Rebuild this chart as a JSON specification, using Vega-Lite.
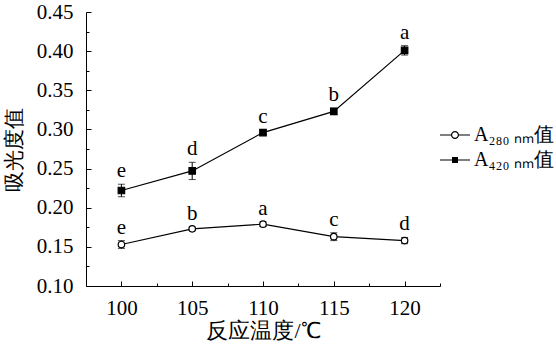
{
  "$schema": "https://vega.github.io/schema/vega-lite/v6.json",
  "autosize": {"type": "none"},
  "width": 354,
  "height": 274,
  "padding": {"left": 86, "top": 12, "right": 116, "bottom": 76},
  "background": "white",
  "data": {
    "values": [
      {"t": 100, "s": "A280", "v": 0.153, "e": 0.005, "l": "e"},
      {"t": 105, "s": "A280", "v": 0.173, "e": 0.002, "l": "b"},
      {"t": 110, "s": "A280", "v": 0.179, "e": 0.003, "l": "a"},
      {"t": 115, "s": "A280", "v": 0.163, "e": 0.005, "l": "c"},
      {"t": 120, "s": "A280", "v": 0.158, "e": 0.004, "l": "d"},
      {"t": 100, "s": "A420", "v": 0.222, "e": 0.008, "l": "e"},
      {"t": 105, "s": "A420", "v": 0.247, "e": 0.011, "l": "d"},
      {"t": 110, "s": "A420", "v": 0.296, "e": 0.003, "l": "c"},
      {"t": 115, "s": "A420", "v": 0.323, "e": 0.004, "l": "b"},
      {"t": 120, "s": "A420", "v": 0.401, "e": 0.006, "l": "a"}
    ]
  },
  "layer": [
    {
      "mark": {"type": "line", "color": "black", "strokeWidth": 1.2},
      "encoding": {
        "x": {"field": "t", "type": "quantitative", "scale": {"domain": [97.5, 122.5], "nice": false, "zero": false},
          "axis": {"values": [100, 105, 110, 115, 120], "tickSize": -5, "labelPadding": 16, "labelFont": "Liberation Serif", "labelFontSize": 21, "titleFont": "Liberation Serif", "title": "反应温度/℃", "titlePadding": 2}},
        "y": {"field": "v", "type": "quantitative", "scale": {"domain": [0.1, 0.45], "nice": false, "zero": false},
          "axis": {"values": [0.1, 0.15, 0.2, 0.25, 0.3, 0.35, 0.4, 0.45], "format": ".2f", "tickSize": -5, "labelPadding": 18, "labelFont": "Liberation Serif", "labelFontSize": 21, "titleFont": "Liberation Serif", "titleFontSize": 21, "title": "吸光度值", "titlePadding": 12}},
        "detail": {"field": "s"}
      }
    },
    {
      "mark": {"type": "errorbar", "color": "black", "thickness": 1, "ticks": {"size": 7, "thickness": 1, "color": "black"}},
      "encoding": {
        "x": {"field": "t", "type": "quantitative", "axis": null},
        "y": {"field": "v", "type": "quantitative", "axis": null},
        "yError": {"field": "e"}
      }
    },
    {
      "mark": {"type": "point", "stroke": "black", "strokeWidth": 1.2, "opacity": 1, "size": 42},
      "encoding": {
        "x": {"field": "t", "type": "quantitative", "axis": null},
        "y": {"field": "v", "type": "quantitative", "axis": null},
        "shape": {"field": "s", "type": "nominal", "scale": {"domain": ["A280", "A420"], "range": ["circle", "square"]}, "legend": null},
        "fill": {"field": "s", "type": "nominal", "scale": {"domain": ["A280", "A420"], "range": ["white", "black"]}, "legend": null}
      }
    },
    {
      "transform": [{"calculate": "datum.v + datum.e", "as": "hi"}],
      "mark": {"type": "text", "baseline": "alphabetic", "dy": -7, "fontSize": 21, "font": "Liberation Serif", "color": "black"},
      "encoding": {
        "x": {"field": "t", "type": "quantitative", "axis": null},
        "y": {"field": "hi", "type": "quantitative", "axis": null},
        "text": {"field": "l"}
      }
    },
    {
      "transform": [{"filter": "false"}],
      "mark": {"type": "point", "filled": true, "fill": "black", "strokeWidth": 0, "opacity": 1},
      "encoding": {
        "x": {"field": "t", "type": "quantitative",
          "axis": {"values": [97.5, 102.5, 107.5, 112.5, 117.5, 122.5], "tickSize": -3, "labels": false, "domain": false, "title": null, "orient": "bottom"}},
        "y": {"field": "v", "type": "quantitative",
          "axis": {"values": [0.125, 0.175, 0.225, 0.275, 0.325, 0.375, 0.425], "tickSize": -3, "labels": false, "domain": false, "title": null, "orient": "left"}},
        "shape": {"field": "s", "type": "nominal", "scale": {"domain": ["A280", "A420"],
          "range": [
            "M-1,-0.04H-0.24V0.04H-1Z M0.24,-0.04H1V0.04H0.24Z M0.27,0A0.27,0.27,0,1,1,-0.27,0A0.27,0.27,0,1,1,0.27,0Z M0.19,0A0.19,0.19,0,1,0,-0.19,0A0.19,0.19,0,1,0,0.19,0Z",
            "M-1,-0.04H1V0.04H-1Z M-0.2,-0.2H0.2V0.2H-0.2Z"]},
          "legend": {"labelExpr": "datum.label == 'A280' ? 'A₂₈₀ ₙₘ值' : 'A₄₂₀ ₙₘ值'",
            "symbolFillColor": "black", "symbolStrokeWidth": 0,
            "encode": {"symbols": {"update": {"fill": {"value": "black"}, "strokeWidth": {"value": 0}, "opacity": {"value": 1}}}}}}
      }
    }
  ],
  "resolve": {
    "scale": {"shape": "independent", "fill": "independent"},
    "axis": {"x": "independent", "y": "independent"}
  },
  "config": {
    "view": {"stroke": null},
    "font": "Liberation Serif",
    "axis": {
      "grid": false,
      "domainColor": "black",
      "domainWidth": 1,
      "tickColor": "black",
      "tickWidth": 1,
      "labelColor": "black",
      "labelFont": "Liberation Serif",
      "labelFontSize": 21,
      "titleFont": "Liberation Serif",
      "titleFontSize": 22,
      "titleFontWeight": "normal",
      "titleColor": "black"
    },
    "legend": {
      "orient": "none",
      "legendX": 354,
      "legendY": 108,
      "title": null,
      "padding": 0,
      "labelFont": "Liberation Serif",
      "labelFontSize": 20,
      "labelColor": "black",
      "labelOffset": 4,
      "symbolSize": 900,
      "rowPadding": -2
    }
  }
}
